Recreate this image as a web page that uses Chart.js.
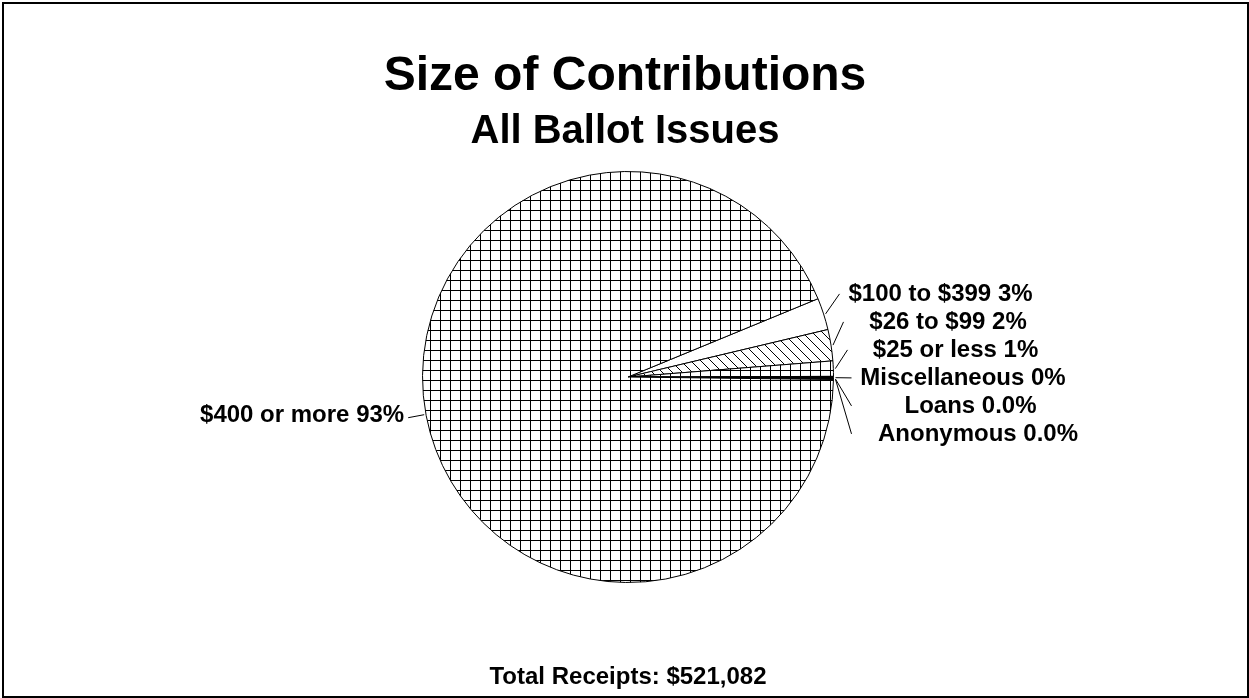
<!DOCTYPE html>
<html>
<head>
<meta charset="utf-8">
<script src="https://cdn.jsdelivr.net/npm/chart.js@4"></script>
<style>
  body { margin: 0; background: #fff; }
  canvas { display: block; }
</style>
</head>
<body>
<canvas id="myChart" width="1249" height="698"></canvas>
<script>
// chart data (clockwise from the top right slice)
const categories = ['$100 to $399', '$26 to $99', '$25 or less', 'Miscellaneous', 'Loans', 'Anonymous', '$400 or more'];
const shares = [2.5, 2.45, 1.2, 0.2, 0.02, 0.02, 93.21];
const pctLabels = ['3%', '2%', '1%', '0%', '0.0%', '0.0%', '93%'];
const fills = ['white', 'hatch', 'grid', 'black', 'white', 'white', 'grid'];
const chartTitle = 'Size of Contributions';
const chartSubtitle = 'All Ballot Issues';
const footerText = 'Total Receipts: $521,082';

const FONT = '"Liberation Sans", Arial, sans-serif';

function makeFill(kind) {
  if (kind == 'white' || kind == 'black') return kind;
  const c = document.createElement('canvas');
  c.width = 10;
  c.height = 10;
  const g = c.getContext('2d');
  g.fillStyle = '#fff';
  g.fillRect(0, 0, 10, 10);
  g.strokeStyle = '#000';
  g.lineWidth = 1;
  g.beginPath();
  if (kind == 'grid') {
    g.moveTo(0.5, 0); g.lineTo(0.5, 10);
    g.moveTo(0, 0.5); g.lineTo(10, 0.5);
  } else {
    // diagonal hatch "\"
    g.moveTo(-5, -5); g.lineTo(15, 15);
  }
  g.stroke();
  return g.createPattern(c, 'repeat');
}

const labelPlugin = {
  id: 'labelPlugin',
  beforeDraw(chart) {
    const ctx = chart.ctx;
    ctx.save();
    ctx.fillStyle = '#fff';
    ctx.fillRect(0, 0, chart.width, chart.height);
    ctx.restore();
  },
  afterDraw(chart) {
    const ctx = chart.ctx;
    const arcs = chart.getDatasetMeta(0).data;
    ctx.save();

    // frame
    ctx.strokeStyle = '#000';
    ctx.lineWidth = 2;
    ctx.strokeRect(3, 3, chart.width - 4, chart.height - 4);

    ctx.fillStyle = '#000';
    ctx.textAlign = 'center';
    ctx.textBaseline = 'alphabetic';
    ctx.font = 'bold 48px ' + FONT;
    ctx.fillText(chartTitle, 625, 90);
    ctx.font = 'bold 40px ' + FONT;
    ctx.fillText(chartSubtitle, 625, 143);
    ctx.font = 'bold 24px ' + FONT;
    ctx.fillText(footerText, 628, 684);

    // slice labels with leader lines
    ctx.lineWidth = 1;
    ctx.textBaseline = 'middle';
    let rightIdx = 0;
    let y0 = null;
    arcs.forEach(function (a, i) {
      const mid = (a.startAngle + a.endAngle) / 2;
      const R = a.outerRadius;
      const px = a.x + R * Math.cos(mid);
      const py = a.y + R * Math.sin(mid);
      const text = categories[i] + ' ' + pctLabels[i];
      ctx.beginPath();
      if (Math.cos(mid) > 0) {
        if (y0 === null) y0 = py - 20;
        const ly = y0 + rightIdx * 28;
        ctx.moveTo(px + 2, py);
        ctx.lineTo(a.x + R + 6 + Math.min(rightIdx, 3) * 4, ly);
        ctx.stroke();
        ctx.textAlign = 'center';
        ctx.fillText(text, a.x + R + 107 + rightIdx * 7.5, ly);
        rightIdx++;
      } else {
        ctx.moveTo(px - 2, py - 1);
        ctx.lineTo(px - 18, py + 2);
        ctx.stroke();
        ctx.textAlign = 'right';
        ctx.fillText(text, px - 22, py);
      }
    });
    ctx.restore();
  }
};

const ctx = document.getElementById('myChart').getContext('2d');
const myChart = new Chart(ctx, {
  type: 'pie',
  data: {
    labels: categories,
    datasets: [{
      data: shares,
      backgroundColor: fills.map(makeFill),
      borderColor: '#000',
      borderWidth: 1
    }]
  },
  options: {
    responsive: false,
    animation: false,
    rotation: 67.6,
    layout: { padding: { top: 171, bottom: 115, left: 7, right: 0 } },
    plugins: {
      legend: { display: false },
      tooltip: { enabled: false }
    }
  },
  plugins: [labelPlugin]
});
</script>
</body>
</html>
